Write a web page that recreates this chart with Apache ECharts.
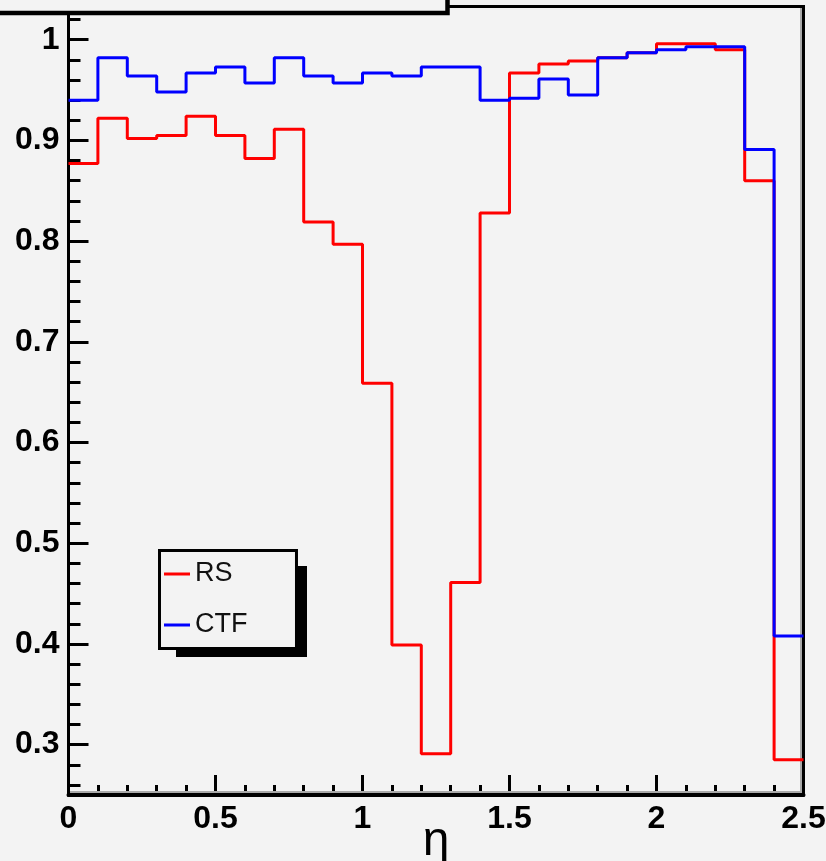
<!DOCTYPE html>
<html>
<head>
  <meta charset="utf-8">
  <title>RS / CTF vs eta</title>
  <script src="https://cdn.jsdelivr.net/npm/echarts@6/dist/echarts.min.js"></script>
</head>
<style>
  html,
  body {
    margin: 0;
    padding: 0;
    background: #f3f3f3;
  }
</style>

<body>
  <div id="chart" style="width: 826px; height: 861px;"></div>

  <script>
    // bin edges in eta (25 bins of 0.1)
    const etaEdges = [0, 0.1, 0.2, 0.3, 0.4, 0.5, 0.6, 0.7, 0.8, 0.9, 1.0, 1.1, 1.2,
      1.3, 1.4, 1.5, 1.6, 1.7, 1.8, 1.9, 2.0, 2.1, 2.2, 2.3, 2.4, 2.5];

    // bin contents
    const rsValues = [0.877, 0.922, 0.902, 0.905, 0.924, 0.905, 0.882, 0.911, 0.819, 0.797,
      0.659, 0.399, 0.291, 0.461, 0.828, 0.967, 0.976, 0.979, 0.982, 0.987,
      0.996, 0.996, 0.990, 0.860, 0.285];
    const ctfValues = [0.940, 0.982, 0.964, 0.948, 0.967, 0.973, 0.957, 0.982, 0.964, 0.957,
      0.967, 0.964, 0.973, 0.973, 0.940, 0.942, 0.961, 0.945, 0.982, 0.987,
      0.990, 0.993, 0.993, 0.891, 0.408];

    const seriesNames = ['RS', 'CTF'];
    const xTickLabels = [0, 0.5, 1, 1.5, 2, 2.5];
    const yMajorTicks = [0.3, 0.4, 0.5, 0.6, 0.7, 0.8, 0.9, 1.0];

    // minor ticks every 0.02 between the majors
    const yMinorTicks = [];
    for (let k = 13; k <= 51; k++) {
      if (k % 5 !== 0) yMinorTicks.push(k / 50);
    }

    // histogram as steps: one point per lower edge plus the last upper edge
    function toSteps(values) {
      const pts = values.map((v, i) => [etaEdges[i], v]);
      pts.push([etaEdges[values.length], values[values.length - 1]]);
      return pts;
    }

    const yMin = 0.25, yMax = 1.033;
    const black = '#000';

    const chart = echarts.init(document.getElementById('chart'));
    const option = {
      backgroundColor: '#f3f3f3',
      animation: false,
      grid: {
        left: 68.5, right: 22.5, top: 6.5, bottom: 66,
        containLabel: false,
        outerBoundsMode: 'none',
        show: true,
        backgroundColor: '#f3f3f3',
        borderColor: black,
        borderWidth: 3
      },
      legend: {
        data: seriesNames,
        orient: 'vertical',
        left: 159.5,
        top: 550.5,
        icon: 'rect',
        itemWidth: 26,
        itemHeight: 3,
        itemGap: 24,
        padding: [10, 49, 10, 4.5],
        backgroundColor: '#f3f3f3',
        borderColor: black,
        borderWidth: 3,
        z: 11,
        textStyle: { fontFamily: 'Liberation Sans', fontSize: 27, color: '#111' }
      },
      xAxis: {
        type: 'value',
        min: 0,
        max: 2.5,
        interval: 0.5,
        name: 'η',
        nameLocation: 'middle',
        nameGap: 23,
        nameMoveOverlap: false,
        nameTextStyle: { fontFamily: 'Liberation Sans', fontSize: 48, color: black },
        axisLine: { show: true, onZero: false, lineStyle: { color: black, width: 4 } },
        axisTick: { show: true, inside: true, length: 20, lineStyle: { color: black, width: 3 } },
        minorTick: { show: true, splitNumber: 5, length: 10, lineStyle: { color: black, width: 3 } },
        splitLine: { show: false },
        axisLabel: {
          margin: 8,
          fontFamily: 'Liberation Sans', fontSize: 32, fontWeight: 'bold', color: black,
          customValues: xTickLabels,
          formatter: v => String(+v.toFixed(1))
        }
      },
      yAxis: [{
        type: 'value',
        min: yMin,
        max: yMax,
        axisLine: { show: true, lineStyle: { color: black, width: 3 } },
        axisTick: { show: true, inside: true, length: 20, customValues: yMajorTicks, lineStyle: { color: black, width: 3 } },
        splitLine: { show: false },
        axisLabel: {
          margin: 9,
          fontFamily: 'Liberation Sans', fontSize: 32, fontWeight: 'bold', color: black,
          customValues: yMajorTicks,
          formatter: v => String(+v.toFixed(1))
        }
      }, {
        // second copy of the y axis only for the short ticks
        type: 'value',
        position: 'left',
        min: yMin,
        max: yMax,
        axisLine: { show: false },
        axisTick: { show: true, inside: true, length: 12, customValues: yMinorTicks, lineStyle: { color: black, width: 3 } },
        axisLabel: { show: false },
        splitLine: { show: false }
      }],
      graphic: [
        // grey bevel of the frame (bottom and right)
        { type: 'line', z: 1, shape: { x1: 70, y1: 792, x2: 802, y2: 792 }, style: { stroke: '#a9a9a9', lineWidth: 2 } },
        { type: 'line', z: 1, shape: { x1: 801, y1: 8, x2: 801, y2: 792 }, style: { stroke: '#a9a9a9', lineWidth: 2 } },
        // legend shadow
        { type: 'rect', z: 10, shape: { x: 176, y: 566, width: 131, height: 91 }, style: { fill: black } },
        // clipped title box in the corner
        { type: 'rect', z: 20, shape: { x: -10, y: -10, width: 457.5, height: 23 }, style: { fill: '#f3f3f3', stroke: black, lineWidth: 4.5 } }
      ],
      series: [{
        name: seriesNames[0],
        type: 'line',
        step: 'end',
        symbol: 'none',
        data: toSteps(rsValues),
        lineStyle: { color: '#ff0000', width: 3 },
        itemStyle: { color: '#ff0000' }
      }, {
        name: seriesNames[1],
        type: 'line',
        step: 'end',
        symbol: 'none',
        data: toSteps(ctfValues),
        lineStyle: { color: '#0000ff', width: 3 },
        itemStyle: { color: '#0000ff' }
      }]
    };
    chart.setOption(option);
  </script>
</body>
</html>
